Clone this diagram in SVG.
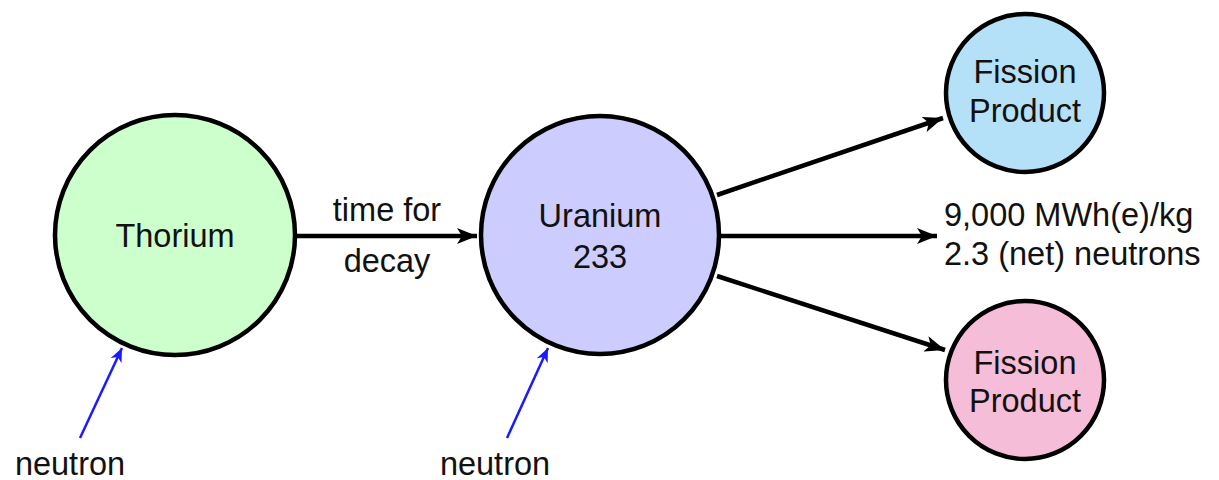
<svg xmlns="http://www.w3.org/2000/svg" width="1219" height="480" viewBox="0 0 1219 480">
  <style>
    .node { stroke: #000; stroke-width: 4.5; }
    .lbl { font-family: "Liberation Sans", Arial, sans-serif; font-size: 32.5px; fill: #111; }
    .mid { text-anchor: middle; }
    .edge { stroke: #000; stroke-width: 4.5; fill: none; marker-end: url(#head); }
    .feed { stroke: #1a1aff; stroke-width: 2.5; fill: none; marker-end: url(#bhead); }
  </style>
  <defs>
    <marker id="head" viewBox="0 0 20 16" refX="20" refY="8" markerWidth="20" markerHeight="16" markerUnits="userSpaceOnUse" orient="auto">
      <path d="M0,0 L20,8 L0,16 L5,8 Z" fill="#000"/>
    </marker>
    <marker id="bhead" viewBox="0 0 14 12" refX="14" refY="6" markerWidth="14" markerHeight="12" markerUnits="userSpaceOnUse" orient="auto">
      <path d="M0,0 L14,6 L0,12 L4,6 Z" fill="#1a1aff"/>
    </marker>
  </defs>

  <g id="connectors">
    <line class="edge" x1="295" y1="236" x2="477" y2="236"/>
    <line class="edge" x1="717" y1="195" x2="943" y2="118"/>
    <line class="edge" x1="720" y1="236" x2="937" y2="236"/>
    <line class="edge" x1="717" y1="276" x2="945" y2="350"/>
    <line class="feed" x1="80" y1="438" x2="122" y2="348"/>
    <line class="feed" x1="507" y1="438" x2="548" y2="348"/>
    <text class="lbl mid" x="387" y="221">time for</text>
    <text class="lbl mid" x="387" y="272">decay</text>
    <text class="lbl" x="944" y="226">9,000 MWh(e)/kg</text>
    <text class="lbl" x="944" y="265">2.3 (net) neutrons</text>
    <text class="lbl mid" x="70" y="475">neutron</text>
    <text class="lbl mid" x="495" y="475">neutron</text>
  </g>

  <g id="thorium">
    <circle class="node" cx="175" cy="235" r="120" fill="#ccffcc"/>
    <text class="lbl mid" x="175" y="247">Thorium</text>
  </g>

  <g id="uranium233">
    <circle class="node" cx="600" cy="235" r="119" fill="#ccccff"/>
    <text class="lbl mid" x="600" y="227">Uranium</text>
    <text class="lbl mid" x="600" y="268">233</text>
  </g>

  <g id="fission-upper">
    <circle class="node" cx="1025" cy="93" r="79" fill="#b4e1f8"/>
    <text class="lbl mid" x="1025" y="83">Fission</text>
    <text class="lbl mid" x="1025" y="122">Product</text>
  </g>

  <g id="fission-lower">
    <circle class="node" cx="1025" cy="380" r="79" fill="#f6bdd9"/>
    <text class="lbl mid" x="1025" y="374">Fission</text>
    <text class="lbl mid" x="1025" y="412">Product</text>
  </g>
</svg>
